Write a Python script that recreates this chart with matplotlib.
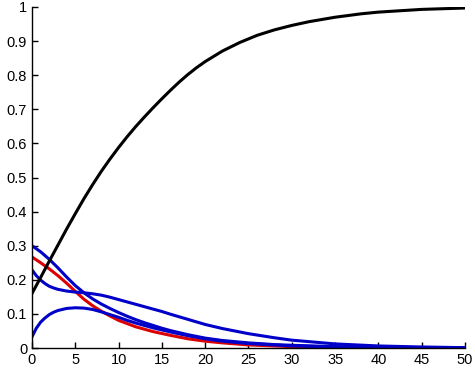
import numpy as np
import matplotlib.pyplot as plt

plt.rcParams['font.family'] = ['Liberation Sans', 'DejaVu Sans']

# black curve (rising)
x_k = [0, 1, 2, 3, 4, 5, 6, 7, 8, 9, 10, 11, 12, 13, 14, 15, 16, 17, 18, 19, 20, 22, 24, 26,
       28, 30, 32, 35, 38, 40, 45, 50]
y_k = [0.16, 0.207, 0.255, 0.302, 0.349, 0.394, 0.438, 0.479, 0.518, 0.554, 0.588, 0.62, 0.65,
       0.678, 0.705, 0.731, 0.756, 0.78, 0.802, 0.822, 0.84, 0.871, 0.896, 0.917, 0.933, 0.946,
       0.957, 0.97, 0.98, 0.985, 0.993, 0.997]

# red curve
x_r = [0, 1, 2, 3, 4, 5, 6, 7, 8, 9, 10, 12, 14, 16, 18, 20, 22, 25, 28, 30, 35, 40, 45, 50]
y_r = [0.267, 0.25, 0.232, 0.212, 0.19, 0.166, 0.143, 0.124, 0.108, 0.094, 0.081, 0.062, 0.048,
       0.037, 0.027, 0.02, 0.015, 0.009, 0.006, 0.004, 0.002, 0.001, 0.0005, 0.0002]

# blue curves
x_b1 = [0, 1, 2, 3, 4, 5, 6, 7, 8, 9, 10, 11, 12, 13, 14, 15, 16, 18, 20, 22, 25, 28, 30, 35,
        40, 45, 50]
y_b1 = [0.30, 0.282, 0.26, 0.235, 0.208, 0.183, 0.162, 0.144, 0.129, 0.116, 0.104, 0.093, 0.083,
        0.074, 0.066, 0.058, 0.051, 0.039, 0.029, 0.022, 0.015, 0.01, 0.008, 0.004, 0.002, 0.001,
        0.0005]

x_b2 = [0, 0.5, 1, 1.5, 2, 2.5, 3, 4, 5, 6, 7, 8, 9, 10, 11, 12, 13, 14, 15, 16, 18, 20, 22, 25,
        28, 30, 35, 40, 45, 50]
y_b2 = [0.229, 0.212, 0.199, 0.189, 0.181, 0.176, 0.172, 0.167, 0.164, 0.162, 0.159, 0.155,
        0.149, 0.142, 0.135, 0.128, 0.121, 0.114, 0.107, 0.099, 0.084, 0.069, 0.057, 0.042, 0.03,
        0.023, 0.012, 0.006, 0.003, 0.001]

x_b3 = [0, 0.5, 1, 1.5, 2, 2.5, 3, 4, 5, 6, 7, 8, 9, 10, 11, 12, 13, 14, 15, 16, 18, 20, 22, 25,
        30, 35, 40, 45, 50]
y_b3 = [0.033, 0.058, 0.076, 0.088, 0.098, 0.105, 0.11, 0.116, 0.118, 0.117, 0.113, 0.106, 0.098,
        0.09, 0.081, 0.073, 0.066, 0.059, 0.053, 0.047, 0.036, 0.027, 0.02, 0.013, 0.006, 0.003,
        0.001, 0.0005, 0.0002]

fig = plt.figure(figsize=(4.75, 3.7), dpi=100)
ax = fig.add_axes([32/475, 22/370, 433/475, 341/370])

blue = '#0000c8'
kw = dict(lw=2.2, solid_joinstyle='round')
ax.plot(x_r, y_r, color='#dc0000', **kw)
ax.plot(x_b1, y_b1, color=blue, **kw)
ax.plot(x_b2, y_b2, color=blue, **kw)
ax.plot(x_b3, y_b3, color=blue, **kw)
ax.plot(x_k, y_k, color='black', **kw)

ax.set_xlim(0, 50)
ax.set_ylim(0, 1)
ax.set_xticks(np.arange(0, 51, 5))
ax.set_yticks(np.arange(0, 1.01, 0.1))
ax.set_yticklabels(['0', '0.1', '0.2', '0.3', '0.4', '0.5', '0.6', '0.7', '0.8', '0.9', '1'])
ax.spines['top'].set_visible(False)
ax.spines['right'].set_visible(False)
ax.tick_params(direction='in', length=4, labelsize=10.5, width=1)
for s in ['left', 'bottom']:
    ax.spines[s].set_linewidth(1)

plt.savefig('out.png', dpi=100)
